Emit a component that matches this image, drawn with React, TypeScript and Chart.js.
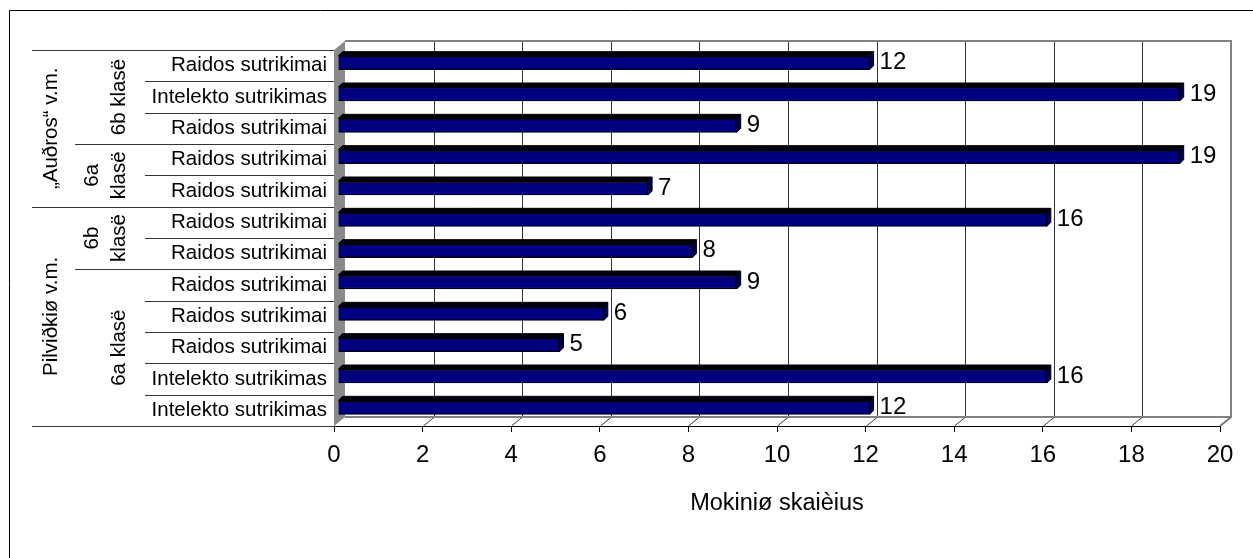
import { useEffect, useRef } from 'react';
import { Chart, registerables } from 'chart.js';

Chart.register(...registerables);

const FONT = '"Liberation Sans", Arial, sans-serif';

// Innermost categories, top to bottom
const categories = [
  'Raidos sutrikimai',
  'Intelekto sutrikimas',
  'Raidos sutrikimai',
  'Raidos sutrikimai',
  'Raidos sutrikimai',
  'Raidos sutrikimai',
  'Raidos sutrikimai',
  'Raidos sutrikimai',
  'Raidos sutrikimai',
  'Raidos sutrikimai',
  'Intelekto sutrikimas',
  'Intelekto sutrikimas',
];
const values = [12, 19, 9, 19, 7, 16, 8, 9, 6, 5, 16, 12];

// Outer group levels
const schoolLabels = ['„Auðros“ v.m.', 'Pilviðkiø v.m.'];
const schoolSpans = [5, 7];
const classLabels = [['6b klasë'], ['6a', 'klasë'], ['6b', 'klasë'], ['6a klasë']];
const classSpans = [3, 2, 2, 5];

const xMin = 0;
const xMax = 20;
const xStep = 2;
const axisTitle = 'Mokiniø skaièius';

const WDX = 11; // wall depth x
const WDY = -9; // wall depth y
const BDX = 4; // bar shift x
const BDY = -3; // bar shift y
const BD = 4; // bar depth

const boundaries = (spans: number[]) => {
  const out: number[] = [];
  let acc = 0;
  spans.forEach((s) => {
    acc += s;
    out.push(acc);
  });
  return out;
};

const wallsPlugin = {
  id: 'walls3d',
  beforeDatasetsDraw(chart: any) {
    const { ctx, chartArea: ca, scales } = chart;
    const x = scales.x;
    ctx.save();
    // left wall
    ctx.fillStyle = '#8a8a8a';
    ctx.beginPath();
    ctx.moveTo(ca.left, ca.top);
    ctx.lineTo(ca.left + WDX, ca.top + WDY);
    ctx.lineTo(ca.left + WDX, ca.bottom + WDY);
    ctx.lineTo(ca.left, ca.bottom);
    ctx.closePath();
    ctx.fill();
    // gridlines on back wall + floor slashes
    ctx.strokeStyle = '#333';
    ctx.lineWidth = 1;
    x.ticks.forEach((t: any) => {
      const v = t.value;
      const xf = x.getPixelForValue(v);
      const xb = Math.round(xf + WDX) + 0.5;
      if (v !== xMin && v !== xMax) {
        ctx.beginPath();
        ctx.moveTo(xb, ca.top + WDY);
        ctx.lineTo(xb, ca.bottom + WDY);
        ctx.stroke();
      }
      if (v !== xMin) {
        ctx.beginPath();
        ctx.moveTo(xb, ca.bottom + WDY);
        ctx.lineTo(xb - WDX, ca.bottom);
        ctx.stroke();
      }
    });
    // back wall edges
    ctx.strokeStyle = '#808080';
    ctx.lineWidth = 2;
    const rb = x.getPixelForValue(xMax) + WDX;
    ctx.beginPath();
    ctx.moveTo(ca.left + WDX, ca.top + WDY);
    ctx.lineTo(rb, ca.top + WDY);
    ctx.lineTo(rb, ca.bottom + WDY);
    ctx.lineTo(rb - WDX, ca.bottom);
    ctx.stroke();
    ctx.beginPath();
    ctx.moveTo(ca.left + WDX, ca.bottom + WDY);
    ctx.lineTo(rb, ca.bottom + WDY);
    ctx.stroke();
    ctx.restore();
  },
  beforeDatasetDraw(chart: any) {
    chart.ctx.save();
    chart.ctx.translate(BDX, BDY);
  },
  afterDatasetDraw(chart: any, args: any) {
    const ctx = chart.ctx;
    const meta = args.meta;
    ctx.lineWidth = 1;
    ctx.strokeStyle = '#000';
    meta.data.forEach((bar: any) => {
      const { x, y, base, height } = bar.getProps(['x', 'y', 'base', 'height'], true);
      const y0 = y - height / 2;
      const y1 = y + height / 2;
      ctx.fillStyle = '#00000f';
      ctx.beginPath();
      ctx.moveTo(base, y0);
      ctx.lineTo(x, y0);
      ctx.lineTo(x + BD, y0 - BD);
      ctx.lineTo(base + BD, y0 - BD);
      ctx.closePath();
      ctx.fill();
      ctx.stroke();
      ctx.fillStyle = '#000050';
      ctx.beginPath();
      ctx.moveTo(x, y0);
      ctx.lineTo(x + BD, y0 - BD);
      ctx.lineTo(x + BD, y1 - BD);
      ctx.lineTo(x, y1);
      ctx.closePath();
      ctx.fill();
      ctx.stroke();
    });
    ctx.restore();
  },
  afterDatasetsDraw(chart: any) {
    const ctx = chart.ctx;
    const meta = chart.getDatasetMeta(0);
    ctx.save();
    ctx.fillStyle = '#000';
    ctx.font = `24px ${FONT}`;
    ctx.textAlign = 'left';
    ctx.textBaseline = 'middle';
    meta.data.forEach((bar: any, i: number) => {
      const { x, y } = bar.getProps(['x', 'y'], true);
      ctx.fillText(String(values[i]), x + BDX + BD + 6, y + BDY);
    });
    ctx.restore();
  },
};

const hierarchyPlugin = {
  id: 'hierarchy',
  afterDraw(chart: any) {
    const { ctx, chartArea: ca, scales } = chart;
    const y = scales.y;
    const band = y.getPixelForValue(1) - y.getPixelForValue(0);
    const edge = (i: number) => y.getPixelForValue(0) - band / 2 + i * band;
    const schoolB = boundaries(schoolSpans);
    const classB = boundaries(classSpans);
    ctx.save();
    ctx.strokeStyle = '#333';
    ctx.lineWidth = 1;
    for (let i = 0; i <= categories.length; i++) {
      let sx = 145;
      if (i === 0 || schoolB.includes(i)) sx = 32;
      else if (classB.includes(i)) sx = 75;
      const yy = Math.round(edge(i)) + 0.5;
      ctx.beginPath();
      ctx.moveTo(sx, yy);
      ctx.lineTo(ca.left, yy);
      ctx.stroke();
    }
    ctx.fillStyle = '#000';
    ctx.font = `20.5px ${FONT}`;
    ctx.textAlign = 'center';
    ctx.textBaseline = 'middle';
    let start = 0;
    schoolLabels.forEach((lab, k) => {
      const cy = (edge(start) + edge(start + schoolSpans[k])) / 2;
      ctx.save();
      ctx.translate(51, cy);
      ctx.rotate(-Math.PI / 2);
      ctx.fillText(lab, 0, 0);
      ctx.restore();
      start += schoolSpans[k];
    });
    start = 0;
    classLabels.forEach((lines, k) => {
      const cy = (edge(start) + edge(start + classSpans[k])) / 2;
      lines.forEach((ln, j) => {
        const cx = 119 - (lines.length - 1 - j) * 27;
        ctx.save();
        ctx.translate(cx, cy);
        ctx.rotate(-Math.PI / 2);
        ctx.fillText(ln, 0, 0);
        ctx.restore();
      });
      start += classSpans[k];
    });
    // outer frame
    ctx.strokeStyle = '#000';
    ctx.lineWidth = 1;
    ctx.beginPath();
    ctx.moveTo(9.5, 2000);
    ctx.lineTo(9.5, 10.5);
    ctx.lineTo(2000, 10.5);
    ctx.stroke();
    ctx.restore();
  },
};

export default function App() {
  const ref = useRef<HTMLCanvasElement | null>(null);
  useEffect(() => {
    if (!ref.current) return;
    const chart = new Chart(ref.current, {
      type: 'bar',
      data: {
        labels: categories,
        datasets: [
          {
            data: values,
            backgroundColor: '#000080',
            borderColor: '#000',
            borderWidth: 1.5,
            barThickness: 14,
          },
        ],
      },
      options: {
        indexAxis: 'y',
        responsive: false,
        animation: false,
        devicePixelRatio: 1,
        layout: { padding: { top: 50, right: 33, left: 0, bottom: 0 } },
        plugins: { legend: { display: false }, tooltip: { enabled: false } },
        scales: {
          x: {
            min: xMin,
            max: xMax,
            ticks: {
              stepSize: xStep,
              font: { family: FONT, size: 24 },
              color: '#000',
              padding: 9,
              maxRotation: 0,
            },
            grid: { drawOnChartArea: false, drawTicks: true, tickLength: 6, color: '#000' },
            border: { display: true, color: '#000', width: 1 },
            title: {
              display: true,
              text: axisTitle,
              font: { family: FONT, size: 23.5 },
              color: '#000',
              padding: { top: 0, bottom: 40 },
            },
            afterFit: (s: any) => {
              s.height = 132;
            },
          },
          y: {
            ticks: { font: { family: FONT, size: 20.5 }, color: '#000', padding: 7, autoSkip: false },
            grid: { display: false, drawTicks: false },
            border: { display: true, color: '#333', width: 1 },
            afterFit: (s: any) => {
              s.width = 334;
            },
          },
        },
      },
      plugins: [wallsPlugin, hierarchyPlugin],
    });
    return () => chart.destroy();
  }, []);
  return (
    <div style={{ position: 'absolute', left: 0, top: 0, width: 1253, height: 558, background: '#fff' }}>
      <canvas ref={ref} width={1253} height={558} style={{ width: 1253, height: 558, display: 'block' }} />
    </div>
  );
}
